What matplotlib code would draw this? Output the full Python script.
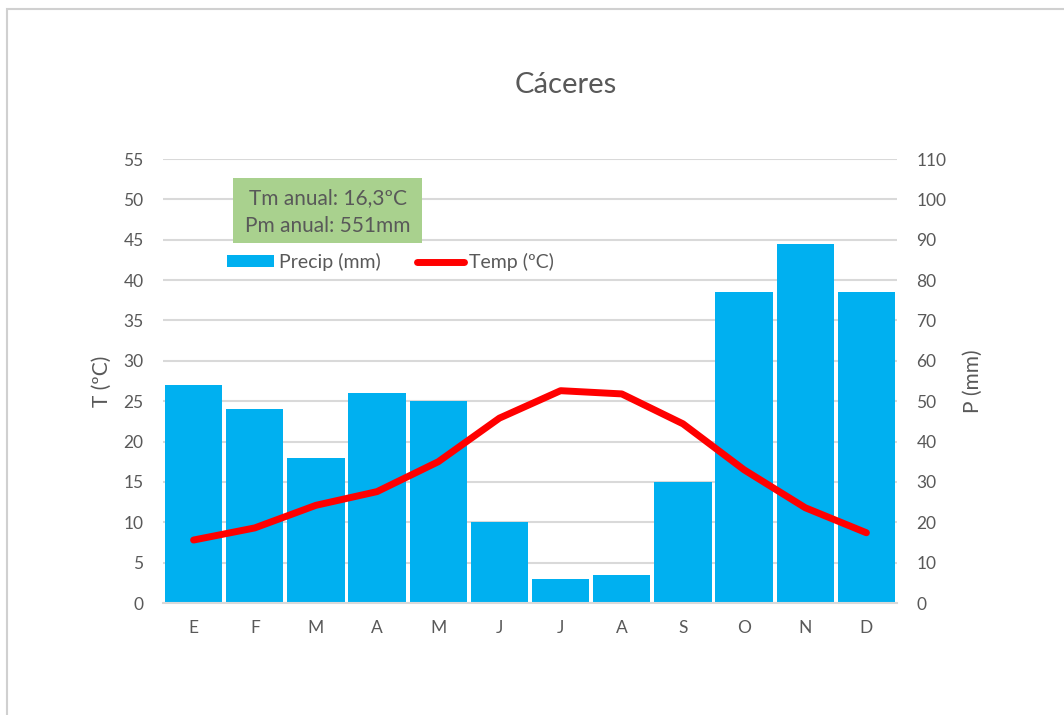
import numpy as np
import matplotlib
matplotlib.use("Agg")
import matplotlib.pyplot as plt
from matplotlib.patches import Rectangle, Patch
from matplotlib.lines import Line2D

plt.rcParams['font.family'] = ['Lato', 'DejaVu Sans']

meses = ["E", "F", "M", "A", "M", "J", "J", "A", "S", "O", "N", "D"]
precip = [54, 48, 36, 52, 50, 20, 6, 7, 30, 77, 89, 77]
temp = [7.8, 9.3, 12.1, 13.8, 17.5, 22.9, 26.3, 25.9, 22.2, 16.5, 11.8, 8.7]
t_ticks = list(range(0, 60, 5))
p_ticks = list(range(0, 120, 10))

GRAY = "#595959"
GRID = "#D9D9D9"

fig = plt.figure(figsize=(10.64, 7.15), dpi=100, facecolor="white")

# marco gris del gráfico
fig.patches.append(Rectangle((7 / 1064, -0.1), 1.2, (715 - 9) / 715 + 0.1,
                             transform=fig.transFigure, fill=False,
                             edgecolor="#D0D0D0", lw=1.5))

ax_t = fig.add_axes([163 / 1064, 112 / 715, 734 / 1064, 444 / 715])
ax_p = ax_t.twinx()
ax_t.set_zorder(ax_p.get_zorder() + 1)
ax_t.patch.set_visible(False)

x = np.arange(len(meses))
ax_p.bar(x, precip, width=0.935, color="#00B0F0", zorder=2)
ax_t.plot(x, temp, color="#FF0000", lw=5, solid_capstyle="round",
          solid_joinstyle="round", zorder=3)

ax_t.set_xlim(-0.5, len(meses) - 0.5)
ax_t.set_ylim(0, 55)
ax_p.set_ylim(0, 110)
ax_t.set_yticks(t_ticks)
ax_p.set_yticks(p_ticks)
ax_t.set_xticks(x)
ax_t.set_xticklabels(meses)

ax_p.grid(axis="y", color=GRID, lw=1.5, zorder=0)
ax_p.set_axisbelow(True)

for a in (ax_t, ax_p):
    for sp in a.spines.values():
        sp.set_visible(False)
    a.tick_params(length=0, colors=GRAY, labelsize=12.5)
ax_t.spines["bottom"].set_visible(True)
ax_t.spines["bottom"].set_color(GRID)
ax_t.spines["bottom"].set_linewidth(1.5)
ax_t.tick_params(axis="x", pad=12)
ax_t.tick_params(axis="y", pad=14)
ax_p.tick_params(axis="y", pad=14)

ax_t.set_ylabel("T (ºC)", color=GRAY, fontsize=15, labelpad=8)
ax_p.set_ylabel("P (mm)", color=GRAY, fontsize=15, labelpad=12)

fig.text(566 / 1064, 1 - 85 / 715, "Cáceres", ha="center", va="center",
         color=GRAY, fontsize=21)

# recuadro verde con los valores anuales
fig.patches.append(Rectangle((233 / 1064, 1 - 243 / 715), 189 / 1064,
                             65 / 715, transform=fig.transFigure,
                             facecolor="#A9D18E", edgecolor="none"))
fig.text(328 / 1064, 1 - 212 / 715, "Tm anual: 16,3ºC\nPm anual: 551mm",
         ha="center", va="center", color=GRAY, fontsize=15,
         linespacing=1.55)

handles = [Patch(facecolor="#00B0F0", edgecolor="none"),
           Line2D([0], [0], color="#FF0000", lw=5, solid_capstyle="round")]
fig.legend(handles, ["Precip (mm)", "Temp (ºC)"], loc="center left",
           bbox_to_anchor=(227 / 1064, 1 - 262 / 715), ncol=2, frameon=False,
           borderpad=0, borderaxespad=0,
           fontsize=14, labelcolor=GRAY, handlelength=2.4, handleheight=0.6,
           columnspacing=1.9, handletextpad=0.25)

fig.savefig("out.png", dpi=100, facecolor="white")
